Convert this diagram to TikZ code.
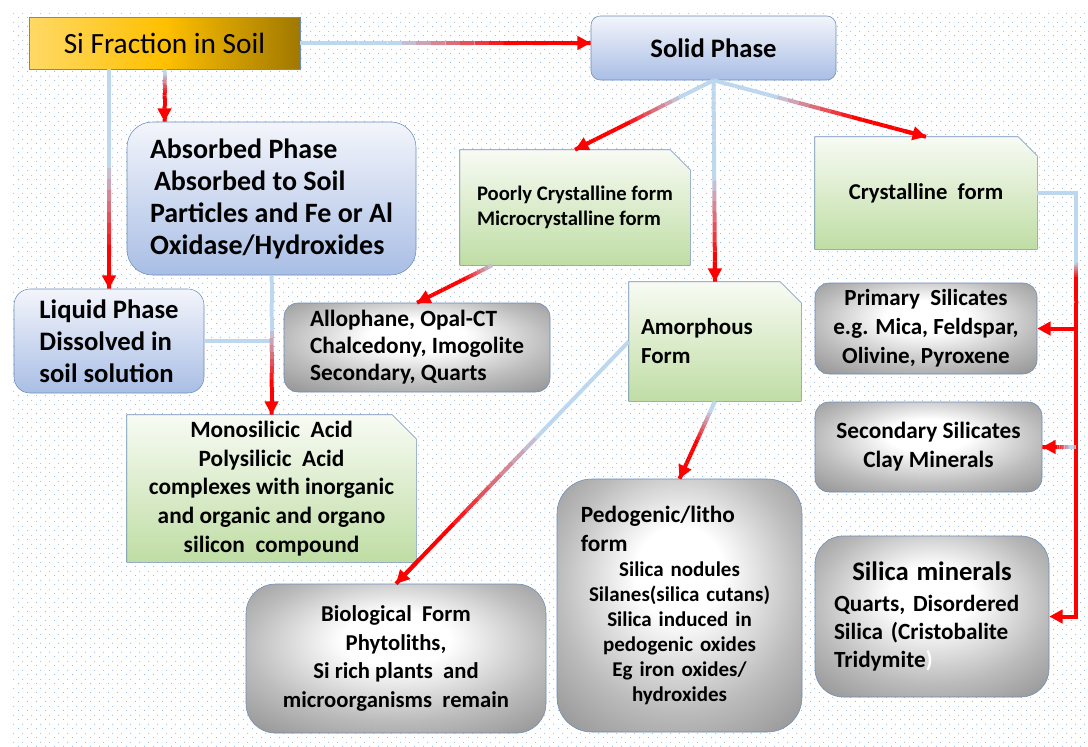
\documentclass[tikz,border=0pt]{standalone}
\usepackage{fontspec}
\setmainfont{Carlito}
\usetikzlibrary{arrows.meta, calc, patterns, backgrounds}
\definecolor{sidot}{HTML}{8DB4E2}
\definecolor{silink}{HTML}{BDD7EE}
\definecolor{sired}{HTML}{FF0000}
\definecolor{siedge}{HTML}{6A8CB8}
\definecolor{sigoldA}{HTML}{FFD966}
\definecolor{sigoldB}{HTML}{FFC000}
\definecolor{sigoldC}{HTML}{A07800}
\definecolor{siblueT}{HTML}{F3F5FB}
\definecolor{siblueB}{HTML}{A9BEE5}
\definecolor{sigreenT}{HTML}{F8FBF4}
\definecolor{sigreenB}{HTML}{BFDDA4}
\definecolor{sigrey}{HTML}{8A8A8A}
\newcommand{\sizeto}[2]{\fontsize{#1}{#2}\selectfont}
\pgfdeclarepatternformonly{softdots}{\pgfqpoint{0pt}{0pt}}{\pgfqpoint{6.75pt}{6.75pt}}{\pgfqpoint{6.75pt}{6.75pt}}{%
  \pgfpathcircle{\pgfqpoint{0.5pt}{0.5pt}}{0.45pt}%
  \pgfpathcircle{\pgfqpoint{3.875pt}{3.875pt}}{0.45pt}%
  \pgfusepath{fill}}
\pgfdeclareradialshading{greyglow}{\pgfpoint{0bp}{8bp}}{color(0bp)=(white); color(9bp)=(white); color(25bp)=(sigrey!58); color(36bp)=(sigrey!90); color(50bp)=(sigrey)}
\tikzset{
  goldbox/.style={rectangle, draw=siedge, left color=sigoldA, right color=sigoldC,
              middle color=sigoldB, inner sep=0pt},
  bluebox/.style={rectangle, rounded corners=#1, draw=siedge, top color=siblueT,
              bottom color=siblueB, inner sep=0pt},
  bluebox/.default=8pt,
  greybox/.style={rectangle, rounded corners=#1, draw=siedge, shading=greyglow, inner sep=0pt},
  greybox/.default=10pt,
  notebox/.style={rectangle, inner sep=0pt},
  notefill/.style={draw=siedge, top color=sigreenT, bottom color=sigreenB},
  link/.style={line width=3pt, line cap=butt},
  redhead/.style={-{Triangle[length=10pt, width=10pt]}},
}
% green note behind a notebox node, with its north east corner cut off
\newcommand{\notecut}[2]{%
  \shade[notefill] (#1.south west) -- (#1.north west) -- ($(#1.north east)+(-#2,0)$)
    -- ($(#1.north east)+(0,#2)$) -- (#1.south east) -- cycle;}
% connector that turns from light blue to red, ending in a red head
\newcommand{\gradline}[3]{%
  \foreach \k in {1,...,20}{
    \pgfmathtruncatemacro{\redpct}{max(0,min(100,(\k/20-#1)*250))}
    \draw[link, draw=sired!\redpct!silink] ($(#2)!{(\k-1)/20}!(#3)$) -- ($(#2)!{\k/20}!(#3)$);
  }}
\newcommand{\gradlink}[3]{%
  \gradline{#1}{#2}{#3}
  \draw[link, draw=sired, redhead] ($(#2)!0.9!(#3)$) -- (#3);}

\begin{document}
\begin{tikzpicture}[x=0.75pt, y=-0.75pt]
  \useasboundingbox (0,0) rectangle (1088,746);
  \begin{scope}[on background layer]
    \fill[pattern=softdots, pattern color=sidot] (10,13) rectangle (1088,746);
  \end{scope}

  \node[goldbox, minimum width=203.25pt, minimum height=39pt, font=\sizeto{22}{26}] (si) at (164.5,43) {Si Fraction in Soil};
  \node[bluebox=7pt, minimum width=183.75pt, minimum height=48pt, font=\bfseries\sizeto{20}{24}] (solid) at (713.5,48) {Solid Phase};
  \node[bluebox=19pt, minimum width=216.75pt, minimum height=114.75pt, align=left, font=\bfseries\sizeto{21}{24}] (absorbed) at (271.5,198.5) {Absorbed Phase\\ \hspace*{3pt}Absorbed to Soil\\ Particles and Fe or Al\\ Oxidase/Hydroxides};
  \node[bluebox=12pt, minimum width=142.5pt, minimum height=78pt, align=left, font=\bfseries\sizeto{20}{24}] (liquid) at (109,341) {Liquid Phase\\ Dissolved in\\ soil solution};
  \node[greybox=10.5pt, minimum width=199.5pt, minimum height=66.75pt, align=left, font=\bfseries\sizeto{17.5}{20.25}] (allo) at (417,347.5) {Allophane,\ Opal-CT\\ Chalcedony,\ Imogolite\\ Secondary,\ Quarts};
  \node[notebox, minimum width=172.5pt, minimum height=86.25pt, align=left, font=\bfseries\sizeto{15.5}{18.75}] (poor) at (575,207.5) {Poorly Crystalline form\\ Microcrystalline form};
  \node[notebox, minimum width=166.5pt, minimum height=84pt, font=\bfseries\sizeto{17}{20}] (crystal) at (926,193) {Crystalline\ \ form};
  \node[notebox, minimum width=129pt, minimum height=89.25pt, text width=111pt, align=left, font=\bfseries\sizeto{17.25}{21.75}] (amorph) at (715,341.5) {Amorphous\\ Form};
  \node[notebox, minimum width=216.75pt, minimum height=110.25pt, align=center, font=\bfseries\sizeto{17.5}{21.5}] (mono) at (271.5,488.5) {Monosilicic\ \ Acid\\ Polysilicic\ \ Acid\\ complexes with inorganic\\ and organic and organo\\ silicon\ \ compound};
  \node[greybox=10.5pt, minimum width=166.5pt, minimum height=68.25pt, align=center, font=\bfseries\sizeto{17.3}{21.75}] (prim) at (926,328.5) {Primary\ \ Silicates\\ e.g. Mica,\ Feldspar,\\ Olivine,\ Pyroxene};
  \node[greybox=10.5pt, minimum width=170.25pt, minimum height=67.5pt, align=center, font=\bfseries\sizeto{17.5}{21.75}] (sec) at (928.5,447) {Secondary\ Silicates\\ Clay\ Minerals};
  \node[greybox=21pt, minimum width=175.5pt, minimum height=120.75pt, text width=147pt, align=left, font=\bfseries\sizeto{17.4}{21}] (silica) at (932,616.5) {\makebox[\hsize][c]{\sizeto{20}{21}Silica minerals}\\[2pt] Quarts,\ Disordered\\ Silica\ (Cristobalite\\ Tridymite\textcolor{white}{)}};
  \node[greybox=26pt, minimum width=183.75pt, minimum height=189.75pt, text width=148pt, align=center, font=\bfseries\sizeto{15.75}{18.75}] (pedo) at (679.5,605.5) {\makebox[\hsize][l]{\sizeto{17.5}{21}Pedogenic/litho}\\[3pt] \makebox[\hsize][l]{\sizeto{17.5}{21}form}\\ Silica nodules\\ Silanes(silica cutans)\\ Silica induced in\\ pedogenic oxides\\ Eg iron oxides/\\ hydroxides};
  \node[greybox=22pt, minimum width=225pt, minimum height=111.75pt, align=center, font=\bfseries\sizeto{17}{21.4}] (bio) at (396,658.5) {Biological\ \ Form\\ Phytoliths,\\ Si rich plants\ \ and\\ microorganisms\ \ remain};

  \begin{scope}[on background layer]
    \notecut{poor}{20}
    \notecut{crystal}{19}
    \notecut{amorph}{21}
    \notecut{mono}{24}
  \end{scope}

  % left column
  \coordinate (sifoot) at (liquid.north |- si.south);
  \gradlink{0.45}{sifoot}{liquid.north}
  \gradlink{0.1}{si.south}{si.south |- absorbed.north}
  \draw[link, draw=silink] (liquid.east) -- (liquid.east -| absorbed.south);
  \gradlink{0.4}{absorbed.south}{mono.north}
  \gradlink{0.35}{si.east}{si.east -| solid.west}
  % solid phase branches
  \gradlink{0.25}{solid.south}{poor.north}
  \gradlink{0.5}{solid.south}{amorph.north}
  \gradlink{0.3}{solid.south}{crystal.north}
  \coordinate (poorfoot) at ($(poor.south west)!0.14!(poor.south east)$);
  \gradlink{0.0}{poorfoot}{allo.north}
  \gradlink{0.4}{amorph.west}{bio.north}
  \gradlink{0.15}{amorph.south}{pedo.north}
  % crystalline trunk
  \coordinate (trunk) at ($(crystal.east)+(39,0)$);
  \coordinate (trunkblue) at ($(trunk)+(0,70)$);
  \coordinate (trunkred) at ($(trunk)+(0,110)$);
  \draw[link, draw=silink] (crystal.east) -- (trunk) -- (trunkblue);
  \gradline{0.0}{trunkblue}{trunkred}
  \draw[link, draw=sired, redhead] (trunkred) |- (silica.east);
  \draw[link, draw=sired, redhead] (trunk |- prim.east) -- (prim.east);
  \gradlink{0.2}{trunk |- sec.east}{sec.east}
\end{tikzpicture}
\end{document}
